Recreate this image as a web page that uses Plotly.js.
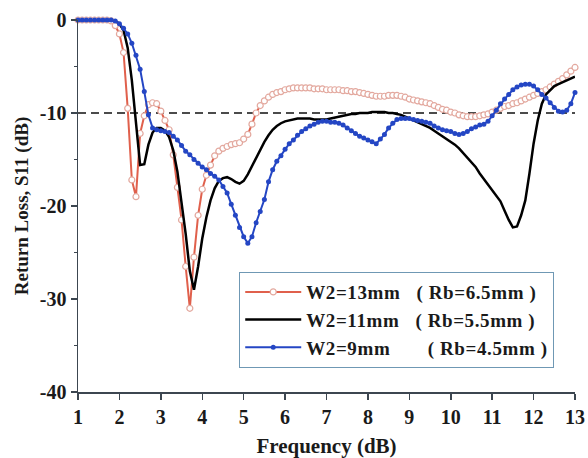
<!DOCTYPE html>
<html>
<head>
<meta charset="utf-8">
<script src="https://cdn.plot.ly/plotly-3.0.1.min.js"></script>
<style>
html,body{margin:0;padding:0;background:#fff;}
#chart{width:588px;height:458px;}
.legendtext{letter-spacing:0.6px;}
</style>
</head>
<body>
<div id="chart"></div>
<script>
// Frequency samples (GHz)
const freq = [
 1.0,1.1,1.2,1.3,1.4,1.5,1.6,1.7,1.8,1.9,
 2.0,2.1,2.2,2.3,2.4,2.5,2.6,2.7,2.8,2.9,
 3.0,3.1,3.2,3.3,3.4,3.5,3.6,3.7,3.8,3.9,
 4.0,4.1,4.2,4.3,4.4,4.5,4.6,4.7,4.8,4.9,
 5.0,5.1,5.2,5.3,5.4,5.5,5.6,5.7,5.8,5.9,
 6.0,6.1,6.2,6.3,6.4,6.5,6.6,6.7,6.8,6.9,
 7.0,7.1,7.2,7.3,7.4,7.5,7.6,7.7,7.8,7.9,
 8.0,8.1,8.2,8.3,8.4,8.5,8.6,8.7,8.8,8.9,
 9.0,9.1,9.2,9.3,9.4,9.5,9.6,9.7,9.8,9.9,
 10.0,10.1,10.2,10.3,10.4,10.5,10.6,10.7,10.8,10.9,
 11.0,11.1,11.2,11.3,11.4,11.5,11.6,11.7,11.8,11.9,
 12.0,12.1,12.2,12.3,12.4,12.5,12.6,12.7,12.8,12.9,
 13.0];

// W2=13mm (Rb=6.5mm)
const s11_w13 = [
 0,0,0,0,0,0,0,0,-0.1,-0.6,
 -1.5,-3.5,-9.5,-17.2,-19.0,-12.2,-10.3,-9.1,-8.9,-9.0,
 -9.8,-10.8,-11.8,-14.5,-18.0,-21.5,-26.5,-31.0,-25.5,-21.0,
 -18.2,-16.7,-15.6,-14.6,-14.1,-13.8,-13.6,-13.4,-13.3,-13.2,
 -12.8,-12.3,-11.2,-10.0,-9.2,-8.7,-8.3,-8.0,-7.8,-7.7,
 -7.5,-7.4,-7.3,-7.3,-7.3,-7.3,-7.3,-7.4,-7.4,-7.4,
 -7.5,-7.5,-7.5,-7.5,-7.6,-7.6,-7.7,-7.7,-7.8,-7.9,
 -8.0,-8.1,-8.2,-8.2,-8.2,-8.1,-8.1,-8.1,-8.2,-8.3,
 -8.5,-8.6,-8.7,-8.8,-8.9,-9.0,-9.2,-9.4,-9.6,-9.7,
 -9.9,-10.0,-10.2,-10.3,-10.4,-10.4,-10.4,-10.3,-10.2,-10.1,
 -9.9,-9.7,-9.5,-9.3,-9.2,-9.0,-8.9,-8.7,-8.5,-8.3,
 -8.1,-7.9,-7.7,-7.5,-7.2,-6.9,-6.6,-6.3,-5.9,-5.5,
 -5.1];

// W2=11mm (Rb=5.5mm)
const s11_w11 = [
 0,0,0,0,0,0,0,0,0,-0.1,
 -0.4,-1.1,-3.0,-6.5,-11.0,-15.6,-15.5,-13.4,-12.1,-11.6,
 -11.6,-11.9,-12.6,-14.0,-16.3,-19.5,-23.0,-27.0,-29.0,-26.5,
 -23.5,-21.2,-19.4,-18.1,-17.3,-17.0,-16.9,-17.1,-17.4,-17.6,
 -17.3,-16.6,-15.7,-14.8,-14.0,-13.1,-12.4,-11.8,-11.4,-11.1,
 -10.9,-10.8,-10.7,-10.6,-10.6,-10.6,-10.6,-10.7,-10.7,-10.7,
 -10.7,-10.6,-10.5,-10.4,-10.3,-10.2,-10.1,-10.1,-10.0,-10.0,
 -10.0,-9.9,-9.9,-9.9,-9.9,-10.0,-10.0,-10.1,-10.2,-10.4,
 -10.6,-10.8,-11.0,-11.2,-11.4,-11.6,-11.9,-12.2,-12.5,-12.8,
 -13.1,-13.4,-13.8,-14.3,-14.8,-15.3,-15.8,-16.5,-17.1,-17.6,
 -18.2,-18.9,-19.5,-20.5,-21.5,-22.3,-22.2,-21.0,-19.4,-16.5,
 -13.3,-10.8,-9.0,-8.0,-7.5,-7.1,-6.9,-6.7,-6.5,-6.3,
 -6.1];

// W2=9mm (Rb=4.5mm)
const s11_w9 = [
 0,0,0,0,0,0,0,0,0,-0.1,
 -0.4,-0.9,-1.5,-2.5,-3.8,-5.3,-7.7,-10.2,-11.6,-11.8,
 -11.9,-12.0,-12.1,-12.5,-12.9,-13.5,-14.1,-14.5,-15.0,-15.4,
 -15.8,-16.1,-16.5,-16.8,-17.2,-17.9,-18.6,-19.8,-21.0,-22.3,
 -23.3,-24.0,-23.3,-21.8,-20.6,-19.3,-17.4,-16.1,-15.2,-14.6,
 -13.9,-13.3,-12.9,-12.4,-12.0,-11.7,-11.4,-11.2,-11.0,-10.9,
 -10.9,-11.0,-11.0,-11.1,-11.3,-11.6,-11.9,-12.2,-12.5,-12.7,
 -12.9,-13.1,-13.3,-12.8,-12.3,-11.6,-11.1,-10.7,-10.6,-10.6,
 -10.6,-10.7,-10.8,-10.9,-11.0,-11.1,-11.4,-11.6,-11.8,-11.9,
 -12.0,-12.2,-12.3,-12.2,-12.0,-11.7,-11.5,-11.3,-11.2,-10.9,
 -10.3,-9.7,-9.0,-8.5,-8.0,-7.5,-7.2,-7.0,-6.9,-6.9,
 -7.1,-7.5,-8.0,-8.4,-8.9,-9.4,-9.8,-9.9,-9.7,-9.0,
 -7.8];

const seriesNames = [
 'W2=13mm\u00a0\u00a0\u00a0( Rb=6.5mm )',
 'W2=11mm\u00a0\u00a0\u00a0( Rb=5.5mm )',
 'W2=9mm\u00a0\u00a0\u00a0\u00a0\u00a0\u00a0\u00a0( Rb=4.5mm )'
];
const threshold = -10;
const xTicks = [1,2,3,4,5,6,7,8,9,10,11,12,13];
const yTicks = [0,-10,-20,-30,-40];

const serif = 'Liberation Serif, Times New Roman, serif';
const axisColor = '#3c4650';

const traces = [
 {x:[freq[0], freq[freq.length-1]], y:[threshold, threshold], mode:'lines',
  line:{color:'#111', width:1.5, dash:'8px,5px'}, showlegend:false, hoverinfo:'skip'},
 {x:freq, y:s11_w13, name:seriesNames[0], mode:'lines+markers', cliponaxis:false,
  line:{color:'#e0604c', width:2},
  marker:{symbol:'circle', size:6, color:'#ffffff', line:{color:'#e3a89e', width:1.2}}},
 {x:freq, y:s11_w11, name:seriesNames[1], mode:'lines', cliponaxis:false,
  line:{color:'#000000', width:2.5}},
 {x:freq, y:s11_w9, name:seriesNames[2], mode:'lines+markers', cliponaxis:false,
  line:{color:'#2446c4', width:2},
  marker:{symbol:'circle', size:5, color:'#2446c4'}}
];

const layout = {
 width:588, height:458,
 margin:{l:78, r:13, t:20, b:66},
 paper_bgcolor:'#ffffff', plot_bgcolor:'#ffffff',
 font:{family:serif, color:'#1a1a1a', size:20, weight:'bold'},
 showlegend:true,
 legend:{x:0.324, y:0.323, xanchor:'left', yanchor:'top',
   bgcolor:'#ffffff', bordercolor:'#6f98b4', borderwidth:1.2,
   font:{family:serif, size:19, color:'#1a1a1a', weight:'bold'},
   itemwidth:56, tracegroupgap:0},
 xaxis:{range:[1,13], tickvals:xTicks, ticktext:xTicks.map(String),
   showgrid:false, zeroline:false, showline:true, linecolor:axisColor, linewidth:1.5,
   ticks:'outside', ticklen:6, tickwidth:1.5, tickcolor:axisColor,
   tickfont:{family:serif, size:20, color:'#1a1a1a', weight:'bold'},
   title:{text:'Frequency (dB)', standoff:18, font:{family:serif, size:21, color:'#1a1a1a', weight:'bold'}}},
 yaxis:{range:[-40,0], tickvals:yTicks, ticktext:yTicks.map(String),
   showgrid:false, zeroline:false, showline:true, linecolor:axisColor, linewidth:1.5,
   ticks:'outside', ticklen:6, tickwidth:1.5, tickcolor:axisColor,
   minor:{dtick:5, tick0:0, ticks:'outside', ticklen:3, tickwidth:1.2, tickcolor:axisColor, showgrid:false},
   tickfont:{family:serif, size:20, color:'#1a1a1a', weight:'bold'},
   title:{text:'Return Loss, S11 (dB)', standoff:6, font:{family:serif, size:19, color:'#1a1a1a', weight:'bold'}}}
};

Plotly.newPlot('chart', traces, layout, {displayModeBar:false, staticPlot:true});
</script>
</body>
</html>
